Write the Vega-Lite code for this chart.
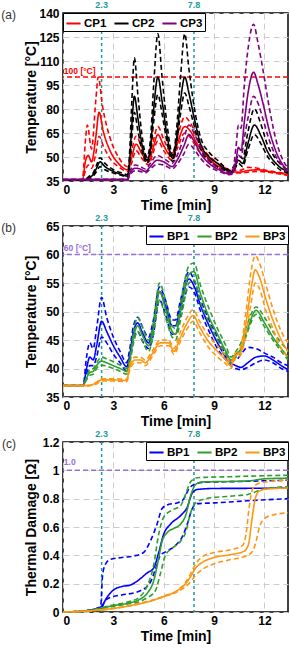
{
"$schema":"https://vega.github.io/schema/vega-lite/v6.json",
"padding":{"left":0,"top":0,"right":3,"bottom":0},
"background":"white",
"config":{
 "font":"Liberation Sans",
 "view":{"stroke":"black","strokeWidth":1.5},
 "axis":{"labelFont":"Liberation Sans","labelFontWeight":"bold","labelFontSize":12,"labelColor":"black","titleFont":"Liberation Sans","titleFontSize":14,"titleFontWeight":"bold","titleColor":"black","grid":true,"gridColor":"#cccccc","gridDash":[6,4],"gridWidth":1,"domain":false,"ticks":false,"labelPadding":3},
 "axisY":{"titleX":-25,"titleBaseline":"bottom","labelPadding":4},
 "axisX":{"titlePadding":3},
 "legend":{"symbolType":"stroke","symbolStrokeWidth":2,"symbolSize":200,"labelFont":"Liberation Sans","labelFontSize":11.5,"labelFontWeight":"bold","labelColor":"black","strokeColor":"black","fillColor":"white","padding":2,"offset":0,"columnPadding":3,"labelOffset":2}
},
"datasets":{
"a":[
{"s":"CP1","k":"m","t":0,"v":35.5},{"s":"CP1","k":"m","t":1.15,"v":35.5},{"s":"CP1","k":"m","t":1.35,"v":48},{"s":"CP1","k":"m","t":1.5,"v":51},{"s":"CP1","k":"m","t":1.7,"v":47},{"s":"CP1","k":"m","t":1.95,"v":62},{"s":"CP1","k":"m","t":2.15,"v":78},{"s":"CP1","k":"m","t":2.4,"v":66},{"s":"CP1","k":"m","t":2.8,"v":54},{"s":"CP1","k":"m","t":3.3,"v":46},{"s":"CP1","k":"m","t":3.85,"v":42},{"s":"CP1","k":"m","t":4.05,"v":48},{"s":"CP1","k":"m","t":4.35,"v":58},{"s":"CP1","k":"m","t":4.7,"v":52},{"s":"CP1","k":"m","t":5.1,"v":47},{"s":"CP1","k":"m","t":5.35,"v":55},{"s":"CP1","k":"m","t":5.65,"v":64},{"s":"CP1","k":"m","t":6.0,"v":57},{"s":"CP1","k":"m","t":6.5,"v":50},{"s":"CP1","k":"m","t":6.8,"v":58},{"s":"CP1","k":"m","t":7.25,"v":69},{"s":"CP1","k":"m","t":7.6,"v":66},{"s":"CP1","k":"m","t":8.0,"v":58},{"s":"CP1","k":"m","t":8.5,"v":51},{"s":"CP1","k":"m","t":9.0,"v":46},{"s":"CP1","k":"m","t":9.5,"v":43},{"s":"CP1","k":"m","t":10.0,"v":41},{"s":"CP1","k":"m","t":10.5,"v":40.5},{"s":"CP1","k":"m","t":11.0,"v":41.5},{"s":"CP1","k":"m","t":11.6,"v":42},{"s":"CP1","k":"m","t":12.2,"v":41},{"s":"CP1","k":"m","t":12.8,"v":40},{"s":"CP1","k":"m","t":13.4,"v":39},
{"s":"CP1","k":"h","t":0,"v":35.5},{"s":"CP1","k":"h","t":1.15,"v":35.5},{"s":"CP1","k":"h","t":1.35,"v":62},{"s":"CP1","k":"h","t":1.45,"v":70},{"s":"CP1","k":"h","t":1.7,"v":55},{"s":"CP1","k":"h","t":1.95,"v":85},{"s":"CP1","k":"h","t":2.1,"v":100},{"s":"CP1","k":"h","t":2.35,"v":82},{"s":"CP1","k":"h","t":2.8,"v":62},{"s":"CP1","k":"h","t":3.3,"v":50},{"s":"CP1","k":"h","t":3.85,"v":44},{"s":"CP1","k":"h","t":4.05,"v":52},{"s":"CP1","k":"h","t":4.35,"v":63},{"s":"CP1","k":"h","t":4.7,"v":56},{"s":"CP1","k":"h","t":5.1,"v":49},{"s":"CP1","k":"h","t":5.35,"v":59},{"s":"CP1","k":"h","t":5.65,"v":69},{"s":"CP1","k":"h","t":6.0,"v":61},{"s":"CP1","k":"h","t":6.5,"v":52},{"s":"CP1","k":"h","t":6.8,"v":62},{"s":"CP1","k":"h","t":7.25,"v":75},{"s":"CP1","k":"h","t":7.6,"v":71},{"s":"CP1","k":"h","t":8.0,"v":62},{"s":"CP1","k":"h","t":8.5,"v":53},{"s":"CP1","k":"h","t":9.0,"v":48},{"s":"CP1","k":"h","t":9.5,"v":44},{"s":"CP1","k":"h","t":10.0,"v":42},{"s":"CP1","k":"h","t":10.5,"v":41.5},{"s":"CP1","k":"h","t":11.0,"v":43.5},{"s":"CP1","k":"h","t":11.6,"v":43},{"s":"CP1","k":"h","t":12.2,"v":41.5},{"s":"CP1","k":"h","t":12.8,"v":40.5},{"s":"CP1","k":"h","t":13.4,"v":39.5},
{"s":"CP1","k":"l","t":0,"v":35.5},{"s":"CP1","k":"l","t":1.15,"v":35.5},{"s":"CP1","k":"l","t":1.35,"v":42},{"s":"CP1","k":"l","t":1.5,"v":45},{"s":"CP1","k":"l","t":1.7,"v":43},{"s":"CP1","k":"l","t":1.95,"v":52},{"s":"CP1","k":"l","t":2.15,"v":63},{"s":"CP1","k":"l","t":2.4,"v":57},{"s":"CP1","k":"l","t":2.8,"v":49},{"s":"CP1","k":"l","t":3.3,"v":44},{"s":"CP1","k":"l","t":3.85,"v":41},{"s":"CP1","k":"l","t":4.05,"v":45},{"s":"CP1","k":"l","t":4.35,"v":54},{"s":"CP1","k":"l","t":4.7,"v":49},{"s":"CP1","k":"l","t":5.1,"v":45},{"s":"CP1","k":"l","t":5.35,"v":52},{"s":"CP1","k":"l","t":5.65,"v":60},{"s":"CP1","k":"l","t":6.0,"v":54},{"s":"CP1","k":"l","t":6.5,"v":48},{"s":"CP1","k":"l","t":6.8,"v":55},{"s":"CP1","k":"l","t":7.25,"v":65},{"s":"CP1","k":"l","t":7.6,"v":62},{"s":"CP1","k":"l","t":8.0,"v":55},{"s":"CP1","k":"l","t":8.5,"v":49},{"s":"CP1","k":"l","t":9.0,"v":45},{"s":"CP1","k":"l","t":9.5,"v":42},{"s":"CP1","k":"l","t":10.0,"v":40.5},{"s":"CP1","k":"l","t":10.5,"v":40},{"s":"CP1","k":"l","t":11.0,"v":40.5},{"s":"CP1","k":"l","t":11.6,"v":41},{"s":"CP1","k":"l","t":12.2,"v":40.5},{"s":"CP1","k":"l","t":12.8,"v":39.5},{"s":"CP1","k":"l","t":13.4,"v":38.5},
{"s":"CP2","k":"m","t":0,"v":35.5},{"s":"CP2","k":"m","t":1.3,"v":35.5},{"s":"CP2","k":"m","t":1.5,"v":37},{"s":"CP2","k":"m","t":1.8,"v":39},{"s":"CP2","k":"m","t":2.0,"v":43},{"s":"CP2","k":"m","t":2.2,"v":47},{"s":"CP2","k":"m","t":2.5,"v":44},{"s":"CP2","k":"m","t":3.0,"v":41},{"s":"CP2","k":"m","t":3.5,"v":39},{"s":"CP2","k":"m","t":3.85,"v":38},{"s":"CP2","k":"m","t":3.95,"v":45},{"s":"CP2","k":"m","t":4.1,"v":70},{"s":"CP2","k":"m","t":4.25,"v":88},{"s":"CP2","k":"m","t":4.45,"v":75},{"s":"CP2","k":"m","t":4.7,"v":58},{"s":"CP2","k":"m","t":5.0,"v":48},{"s":"CP2","k":"m","t":5.2,"v":55},{"s":"CP2","k":"m","t":5.4,"v":80},{"s":"CP2","k":"m","t":5.65,"v":100},{"s":"CP2","k":"m","t":5.9,"v":85},{"s":"CP2","k":"m","t":6.2,"v":63},{"s":"CP2","k":"m","t":6.55,"v":49},{"s":"CP2","k":"m","t":6.75,"v":60},{"s":"CP2","k":"m","t":7.0,"v":85},{"s":"CP2","k":"m","t":7.25,"v":100},{"s":"CP2","k":"m","t":7.5,"v":90},{"s":"CP2","k":"m","t":7.8,"v":75},{"s":"CP2","k":"m","t":8.2,"v":58},{"s":"CP2","k":"m","t":8.7,"v":50},{"s":"CP2","k":"m","t":9.2,"v":46},{"s":"CP2","k":"m","t":9.6,"v":43},{"s":"CP2","k":"m","t":10.0,"v":40.5},{"s":"CP2","k":"m","t":10.2,"v":43},{"s":"CP2","k":"m","t":10.45,"v":48},{"s":"CP2","k":"m","t":10.7,"v":46},{"s":"CP2","k":"m","t":11.0,"v":58},{"s":"CP2","k":"m","t":11.4,"v":70},{"s":"CP2","k":"m","t":11.8,"v":63},{"s":"CP2","k":"m","t":12.2,"v":53},{"s":"CP2","k":"m","t":12.6,"v":47},{"s":"CP2","k":"m","t":13.0,"v":43},{"s":"CP2","k":"m","t":13.4,"v":41},
{"s":"CP2","k":"h","t":0,"v":35.5},{"s":"CP2","k":"h","t":1.3,"v":35.5},{"s":"CP2","k":"h","t":1.5,"v":37.5},{"s":"CP2","k":"h","t":1.8,"v":40},{"s":"CP2","k":"h","t":2.0,"v":45},{"s":"CP2","k":"h","t":2.2,"v":49.5},{"s":"CP2","k":"h","t":2.5,"v":46},{"s":"CP2","k":"h","t":3.0,"v":42},{"s":"CP2","k":"h","t":3.5,"v":40},{"s":"CP2","k":"h","t":3.85,"v":39},{"s":"CP2","k":"h","t":3.95,"v":50},{"s":"CP2","k":"h","t":4.1,"v":85},{"s":"CP2","k":"h","t":4.25,"v":112},{"s":"CP2","k":"h","t":4.45,"v":90},{"s":"CP2","k":"h","t":4.7,"v":64},{"s":"CP2","k":"h","t":5.0,"v":50},{"s":"CP2","k":"h","t":5.2,"v":60},{"s":"CP2","k":"h","t":5.4,"v":95},{"s":"CP2","k":"h","t":5.65,"v":127},{"s":"CP2","k":"h","t":5.9,"v":100},{"s":"CP2","k":"h","t":6.2,"v":70},{"s":"CP2","k":"h","t":6.55,"v":51},{"s":"CP2","k":"h","t":6.75,"v":66},{"s":"CP2","k":"h","t":7.0,"v":100},{"s":"CP2","k":"h","t":7.25,"v":127},{"s":"CP2","k":"h","t":7.5,"v":105},{"s":"CP2","k":"h","t":7.8,"v":82},{"s":"CP2","k":"h","t":8.2,"v":62},{"s":"CP2","k":"h","t":8.7,"v":53},{"s":"CP2","k":"h","t":9.2,"v":48},{"s":"CP2","k":"h","t":9.6,"v":44},{"s":"CP2","k":"h","t":10.0,"v":41.5},{"s":"CP2","k":"h","t":10.2,"v":45},{"s":"CP2","k":"h","t":10.45,"v":51},{"s":"CP2","k":"h","t":10.7,"v":49},{"s":"CP2","k":"h","t":11.0,"v":65},{"s":"CP2","k":"h","t":11.4,"v":80},{"s":"CP2","k":"h","t":11.8,"v":70},{"s":"CP2","k":"h","t":12.2,"v":57},{"s":"CP2","k":"h","t":12.6,"v":50},{"s":"CP2","k":"h","t":13.0,"v":45},{"s":"CP2","k":"h","t":13.4,"v":42},
{"s":"CP2","k":"l","t":0,"v":35.5},{"s":"CP2","k":"l","t":1.3,"v":35.5},{"s":"CP2","k":"l","t":1.5,"v":36.5},{"s":"CP2","k":"l","t":1.8,"v":38},{"s":"CP2","k":"l","t":2.0,"v":41},{"s":"CP2","k":"l","t":2.2,"v":44},{"s":"CP2","k":"l","t":2.5,"v":42},{"s":"CP2","k":"l","t":3.0,"v":40},{"s":"CP2","k":"l","t":3.5,"v":38.5},{"s":"CP2","k":"l","t":3.85,"v":37.5},{"s":"CP2","k":"l","t":3.95,"v":43},{"s":"CP2","k":"l","t":4.1,"v":62},{"s":"CP2","k":"l","t":4.25,"v":78},{"s":"CP2","k":"l","t":4.45,"v":67},{"s":"CP2","k":"l","t":4.7,"v":54},{"s":"CP2","k":"l","t":5.0,"v":46},{"s":"CP2","k":"l","t":5.2,"v":52},{"s":"CP2","k":"l","t":5.4,"v":72},{"s":"CP2","k":"l","t":5.65,"v":89},{"s":"CP2","k":"l","t":5.9,"v":77},{"s":"CP2","k":"l","t":6.2,"v":59},{"s":"CP2","k":"l","t":6.55,"v":47},{"s":"CP2","k":"l","t":6.75,"v":57},{"s":"CP2","k":"l","t":7.0,"v":77},{"s":"CP2","k":"l","t":7.25,"v":90},{"s":"CP2","k":"l","t":7.5,"v":82},{"s":"CP2","k":"l","t":7.8,"v":70},{"s":"CP2","k":"l","t":8.2,"v":55},{"s":"CP2","k":"l","t":8.7,"v":48},{"s":"CP2","k":"l","t":9.2,"v":44},{"s":"CP2","k":"l","t":9.6,"v":42},{"s":"CP2","k":"l","t":10.0,"v":40},{"s":"CP2","k":"l","t":10.2,"v":42},{"s":"CP2","k":"l","t":10.45,"v":46},{"s":"CP2","k":"l","t":10.7,"v":44},{"s":"CP2","k":"l","t":11.0,"v":54},{"s":"CP2","k":"l","t":11.4,"v":64},{"s":"CP2","k":"l","t":11.8,"v":58},{"s":"CP2","k":"l","t":12.2,"v":50},{"s":"CP2","k":"l","t":12.6,"v":45},{"s":"CP2","k":"l","t":13.0,"v":41.5},{"s":"CP2","k":"l","t":13.4,"v":40},
{"s":"CP3","k":"m","t":0,"v":36},{"s":"CP3","k":"m","t":3.85,"v":36},{"s":"CP3","k":"m","t":3.95,"v":39},{"s":"CP3","k":"m","t":4.3,"v":43},{"s":"CP3","k":"m","t":4.6,"v":42.5},{"s":"CP3","k":"m","t":4.9,"v":41},{"s":"CP3","k":"m","t":5.2,"v":44},{"s":"CP3","k":"m","t":5.6,"v":48},{"s":"CP3","k":"m","t":6.0,"v":47},{"s":"CP3","k":"m","t":6.5,"v":44},{"s":"CP3","k":"m","t":6.8,"v":48},{"s":"CP3","k":"m","t":7.2,"v":57},{"s":"CP3","k":"m","t":7.5,"v":64},{"s":"CP3","k":"m","t":7.8,"v":60},{"s":"CP3","k":"m","t":8.2,"v":52},{"s":"CP3","k":"m","t":8.7,"v":46},{"s":"CP3","k":"m","t":9.3,"v":42},{"s":"CP3","k":"m","t":9.9,"v":39.5},{"s":"CP3","k":"m","t":10.1,"v":40},{"s":"CP3","k":"m","t":10.3,"v":48},{"s":"CP3","k":"m","t":10.45,"v":56},{"s":"CP3","k":"m","t":10.6,"v":54},{"s":"CP3","k":"m","t":10.8,"v":72},{"s":"CP3","k":"m","t":11.05,"v":92},{"s":"CP3","k":"m","t":11.35,"v":103},{"s":"CP3","k":"m","t":11.6,"v":96},{"s":"CP3","k":"m","t":11.9,"v":84},{"s":"CP3","k":"m","t":12.3,"v":66},{"s":"CP3","k":"m","t":12.7,"v":53},{"s":"CP3","k":"m","t":13.1,"v":45},{"s":"CP3","k":"m","t":13.4,"v":41},
{"s":"CP3","k":"h","t":0,"v":36},{"s":"CP3","k":"h","t":3.85,"v":36},{"s":"CP3","k":"h","t":3.95,"v":40},{"s":"CP3","k":"h","t":4.3,"v":45},{"s":"CP3","k":"h","t":4.6,"v":44},{"s":"CP3","k":"h","t":4.9,"v":42.5},{"s":"CP3","k":"h","t":5.2,"v":46},{"s":"CP3","k":"h","t":5.6,"v":51},{"s":"CP3","k":"h","t":6.0,"v":49},{"s":"CP3","k":"h","t":6.5,"v":46},{"s":"CP3","k":"h","t":6.8,"v":51},{"s":"CP3","k":"h","t":7.2,"v":62},{"s":"CP3","k":"h","t":7.5,"v":70},{"s":"CP3","k":"h","t":7.8,"v":65},{"s":"CP3","k":"h","t":8.2,"v":56},{"s":"CP3","k":"h","t":8.7,"v":48},{"s":"CP3","k":"h","t":9.3,"v":43},{"s":"CP3","k":"h","t":9.9,"v":40.5},{"s":"CP3","k":"h","t":10.1,"v":41.5},{"s":"CP3","k":"h","t":10.3,"v":56},{"s":"CP3","k":"h","t":10.45,"v":70},{"s":"CP3","k":"h","t":10.6,"v":68},{"s":"CP3","k":"h","t":10.8,"v":95},{"s":"CP3","k":"h","t":11.05,"v":120},{"s":"CP3","k":"h","t":11.35,"v":133},{"s":"CP3","k":"h","t":11.6,"v":122},{"s":"CP3","k":"h","t":11.9,"v":105},{"s":"CP3","k":"h","t":12.3,"v":80},{"s":"CP3","k":"h","t":12.7,"v":60},{"s":"CP3","k":"h","t":13.1,"v":48},{"s":"CP3","k":"h","t":13.4,"v":43},
{"s":"CP3","k":"l","t":0,"v":35.5},{"s":"CP3","k":"l","t":3.85,"v":35.5},{"s":"CP3","k":"l","t":3.95,"v":38},{"s":"CP3","k":"l","t":4.3,"v":41.5},{"s":"CP3","k":"l","t":4.6,"v":41},{"s":"CP3","k":"l","t":4.9,"v":40},{"s":"CP3","k":"l","t":5.2,"v":42.5},{"s":"CP3","k":"l","t":5.6,"v":45.5},{"s":"CP3","k":"l","t":6.0,"v":45},{"s":"CP3","k":"l","t":6.5,"v":42.5},{"s":"CP3","k":"l","t":6.8,"v":45.5},{"s":"CP3","k":"l","t":7.2,"v":52},{"s":"CP3","k":"l","t":7.5,"v":58},{"s":"CP3","k":"l","t":7.8,"v":55},{"s":"CP3","k":"l","t":8.2,"v":49},{"s":"CP3","k":"l","t":8.7,"v":44},{"s":"CP3","k":"l","t":9.3,"v":41},{"s":"CP3","k":"l","t":9.9,"v":39},{"s":"CP3","k":"l","t":10.1,"v":39.5},{"s":"CP3","k":"l","t":10.3,"v":45},{"s":"CP3","k":"l","t":10.45,"v":51},{"s":"CP3","k":"l","t":10.6,"v":50},{"s":"CP3","k":"l","t":10.8,"v":62},{"s":"CP3","k":"l","t":11.05,"v":76},{"s":"CP3","k":"l","t":11.35,"v":88},{"s":"CP3","k":"l","t":11.6,"v":84},{"s":"CP3","k":"l","t":11.9,"v":74},{"s":"CP3","k":"l","t":12.3,"v":60},{"s":"CP3","k":"l","t":12.7,"v":50},{"s":"CP3","k":"l","t":13.1,"v":44},{"s":"CP3","k":"l","t":13.4,"v":40}
],
"b":[
{"s":"BP1","k":"m","t":0,"v":37},{"s":"BP1","k":"m","t":1.2,"v":37},{"s":"BP1","k":"m","t":1.4,"v":40},{"s":"BP1","k":"m","t":1.6,"v":42},{"s":"BP1","k":"m","t":1.8,"v":41.5},{"s":"BP1","k":"m","t":2.0,"v":44},{"s":"BP1","k":"m","t":2.3,"v":48.3},{"s":"BP1","k":"m","t":2.6,"v":46.5},{"s":"BP1","k":"m","t":3.0,"v":44},{"s":"BP1","k":"m","t":3.4,"v":42},{"s":"BP1","k":"m","t":3.8,"v":40.3},{"s":"BP1","k":"m","t":3.95,"v":42},{"s":"BP1","k":"m","t":4.2,"v":46.5},{"s":"BP1","k":"m","t":4.45,"v":48},{"s":"BP1","k":"m","t":4.7,"v":46.5},{"s":"BP1","k":"m","t":5.1,"v":44.5},{"s":"BP1","k":"m","t":5.35,"v":47},{"s":"BP1","k":"m","t":5.75,"v":53.5},{"s":"BP1","k":"m","t":6.1,"v":51},{"s":"BP1","k":"m","t":6.5,"v":47.5},{"s":"BP1","k":"m","t":6.7,"v":47.5},{"s":"BP1","k":"m","t":7.0,"v":51},{"s":"BP1","k":"m","t":7.5,"v":55.7},{"s":"BP1","k":"m","t":7.8,"v":54.5},{"s":"BP1","k":"m","t":8.2,"v":51},{"s":"BP1","k":"m","t":8.7,"v":47.5},{"s":"BP1","k":"m","t":9.2,"v":44.5},{"s":"BP1","k":"m","t":9.7,"v":42},{"s":"BP1","k":"m","t":10.0,"v":41},{"s":"BP1","k":"m","t":10.3,"v":40.5},{"s":"BP1","k":"m","t":10.6,"v":40.2},{"s":"BP1","k":"m","t":11.0,"v":41},{"s":"BP1","k":"m","t":11.5,"v":42},{"s":"BP1","k":"m","t":12.0,"v":42.2},{"s":"BP1","k":"m","t":12.5,"v":41.5},{"s":"BP1","k":"m","t":13.0,"v":40.5},{"s":"BP1","k":"m","t":13.4,"v":39.8},
{"s":"BP1","k":"h","t":0,"v":37},{"s":"BP1","k":"h","t":1.2,"v":37},{"s":"BP1","k":"h","t":1.4,"v":42},{"s":"BP1","k":"h","t":1.6,"v":44.5},{"s":"BP1","k":"h","t":1.8,"v":43.5},{"s":"BP1","k":"h","t":2.0,"v":47},{"s":"BP1","k":"h","t":2.3,"v":52.5},{"s":"BP1","k":"h","t":2.6,"v":49},{"s":"BP1","k":"h","t":3.0,"v":45.5},{"s":"BP1","k":"h","t":3.4,"v":43},{"s":"BP1","k":"h","t":3.8,"v":41},{"s":"BP1","k":"h","t":3.95,"v":43},{"s":"BP1","k":"h","t":4.2,"v":47.5},{"s":"BP1","k":"h","t":4.45,"v":49},{"s":"BP1","k":"h","t":4.7,"v":47.5},{"s":"BP1","k":"h","t":5.1,"v":45.5},{"s":"BP1","k":"h","t":5.35,"v":48},{"s":"BP1","k":"h","t":5.75,"v":54.3},{"s":"BP1","k":"h","t":6.1,"v":52},{"s":"BP1","k":"h","t":6.5,"v":48.5},{"s":"BP1","k":"h","t":6.7,"v":48.5},{"s":"BP1","k":"h","t":7.0,"v":52},{"s":"BP1","k":"h","t":7.5,"v":57},{"s":"BP1","k":"h","t":7.8,"v":55.5},{"s":"BP1","k":"h","t":8.2,"v":52},{"s":"BP1","k":"h","t":8.7,"v":48.5},{"s":"BP1","k":"h","t":9.2,"v":45.5},{"s":"BP1","k":"h","t":9.7,"v":42.5},{"s":"BP1","k":"h","t":10.0,"v":41.5},{"s":"BP1","k":"h","t":10.3,"v":41.5},{"s":"BP1","k":"h","t":10.6,"v":42.5},{"s":"BP1","k":"h","t":11.0,"v":43.7},{"s":"BP1","k":"h","t":11.5,"v":43.5},{"s":"BP1","k":"h","t":12.0,"v":42.7},{"s":"BP1","k":"h","t":12.5,"v":42},{"s":"BP1","k":"h","t":13.0,"v":41},{"s":"BP1","k":"h","t":13.4,"v":40.5},
{"s":"BP1","k":"l","t":0,"v":37},{"s":"BP1","k":"l","t":1.2,"v":37},{"s":"BP1","k":"l","t":1.4,"v":39},{"s":"BP1","k":"l","t":1.6,"v":40.5},{"s":"BP1","k":"l","t":1.8,"v":40.5},{"s":"BP1","k":"l","t":2.0,"v":42},{"s":"BP1","k":"l","t":2.3,"v":45.5},{"s":"BP1","k":"l","t":2.6,"v":44.5},{"s":"BP1","k":"l","t":3.0,"v":42.5},{"s":"BP1","k":"l","t":3.4,"v":41},{"s":"BP1","k":"l","t":3.8,"v":39.5},{"s":"BP1","k":"l","t":3.95,"v":41},{"s":"BP1","k":"l","t":4.2,"v":45},{"s":"BP1","k":"l","t":4.45,"v":46.5},{"s":"BP1","k":"l","t":4.7,"v":45},{"s":"BP1","k":"l","t":5.1,"v":43.5},{"s":"BP1","k":"l","t":5.35,"v":45.5},{"s":"BP1","k":"l","t":5.75,"v":52},{"s":"BP1","k":"l","t":6.1,"v":49.5},{"s":"BP1","k":"l","t":6.5,"v":46},{"s":"BP1","k":"l","t":6.7,"v":46},{"s":"BP1","k":"l","t":7.0,"v":49.5},{"s":"BP1","k":"l","t":7.5,"v":54.3},{"s":"BP1","k":"l","t":7.8,"v":53.5},{"s":"BP1","k":"l","t":8.2,"v":50},{"s":"BP1","k":"l","t":8.7,"v":46.5},{"s":"BP1","k":"l","t":9.2,"v":43.5},{"s":"BP1","k":"l","t":9.7,"v":41.5},{"s":"BP1","k":"l","t":10.0,"v":40.5},{"s":"BP1","k":"l","t":10.3,"v":40},{"s":"BP1","k":"l","t":10.6,"v":39.8},{"s":"BP1","k":"l","t":11.0,"v":40.2},{"s":"BP1","k":"l","t":11.5,"v":41},{"s":"BP1","k":"l","t":12.0,"v":41.5},{"s":"BP1","k":"l","t":12.5,"v":41},{"s":"BP1","k":"l","t":13.0,"v":40},{"s":"BP1","k":"l","t":13.4,"v":39.5},
{"s":"BP2","k":"m","t":0,"v":37},{"s":"BP2","k":"m","t":1.2,"v":37},{"s":"BP2","k":"m","t":1.4,"v":38.3},{"s":"BP2","k":"m","t":1.6,"v":39.3},{"s":"BP2","k":"m","t":1.8,"v":39.5},{"s":"BP2","k":"m","t":2.0,"v":40.5},{"s":"BP2","k":"m","t":2.3,"v":41.3},{"s":"BP2","k":"m","t":2.6,"v":41},{"s":"BP2","k":"m","t":3.0,"v":40.5},{"s":"BP2","k":"m","t":3.4,"v":40},{"s":"BP2","k":"m","t":3.8,"v":39.5},{"s":"BP2","k":"m","t":3.95,"v":41},{"s":"BP2","k":"m","t":4.2,"v":45.5},{"s":"BP2","k":"m","t":4.45,"v":47.5},{"s":"BP2","k":"m","t":4.7,"v":46},{"s":"BP2","k":"m","t":5.1,"v":44},{"s":"BP2","k":"m","t":5.35,"v":46.5},{"s":"BP2","k":"m","t":5.75,"v":53.5},{"s":"BP2","k":"m","t":6.1,"v":50.5},{"s":"BP2","k":"m","t":6.5,"v":46.5},{"s":"BP2","k":"m","t":6.7,"v":46},{"s":"BP2","k":"m","t":7.0,"v":50},{"s":"BP2","k":"m","t":7.5,"v":56.5},{"s":"BP2","k":"m","t":7.8,"v":57},{"s":"BP2","k":"m","t":8.2,"v":53},{"s":"BP2","k":"m","t":8.7,"v":49},{"s":"BP2","k":"m","t":9.2,"v":46},{"s":"BP2","k":"m","t":9.7,"v":43},{"s":"BP2","k":"m","t":10.0,"v":41.5},{"s":"BP2","k":"m","t":10.3,"v":42.5},{"s":"BP2","k":"m","t":10.6,"v":43.5},{"s":"BP2","k":"m","t":11.0,"v":47},{"s":"BP2","k":"m","t":11.5,"v":50.2},{"s":"BP2","k":"m","t":12.0,"v":48},{"s":"BP2","k":"m","t":12.5,"v":45.5},{"s":"BP2","k":"m","t":13.0,"v":43.5},{"s":"BP2","k":"m","t":13.4,"v":42},
{"s":"BP2","k":"h","t":0,"v":37},{"s":"BP2","k":"h","t":1.2,"v":37},{"s":"BP2","k":"h","t":1.4,"v":38.6},{"s":"BP2","k":"h","t":1.6,"v":39.8},{"s":"BP2","k":"h","t":1.8,"v":40},{"s":"BP2","k":"h","t":2.0,"v":41},{"s":"BP2","k":"h","t":2.3,"v":42},{"s":"BP2","k":"h","t":2.6,"v":41.7},{"s":"BP2","k":"h","t":3.0,"v":41.2},{"s":"BP2","k":"h","t":3.4,"v":40.6},{"s":"BP2","k":"h","t":3.8,"v":40},{"s":"BP2","k":"h","t":3.95,"v":41.5},{"s":"BP2","k":"h","t":4.2,"v":46.5},{"s":"BP2","k":"h","t":4.45,"v":49},{"s":"BP2","k":"h","t":4.7,"v":47.5},{"s":"BP2","k":"h","t":5.1,"v":45},{"s":"BP2","k":"h","t":5.35,"v":47.5},{"s":"BP2","k":"h","t":5.75,"v":55},{"s":"BP2","k":"h","t":6.1,"v":52},{"s":"BP2","k":"h","t":6.5,"v":47.5},{"s":"BP2","k":"h","t":6.7,"v":47},{"s":"BP2","k":"h","t":7.0,"v":51.5},{"s":"BP2","k":"h","t":7.5,"v":58},{"s":"BP2","k":"h","t":7.8,"v":58.5},{"s":"BP2","k":"h","t":8.2,"v":54.5},{"s":"BP2","k":"h","t":8.7,"v":50.5},{"s":"BP2","k":"h","t":9.2,"v":47},{"s":"BP2","k":"h","t":9.7,"v":44},{"s":"BP2","k":"h","t":10.0,"v":42},{"s":"BP2","k":"h","t":10.3,"v":43},{"s":"BP2","k":"h","t":10.6,"v":44.5},{"s":"BP2","k":"h","t":11.0,"v":48},{"s":"BP2","k":"h","t":11.5,"v":50.8},{"s":"BP2","k":"h","t":12.0,"v":49},{"s":"BP2","k":"h","t":12.5,"v":46.5},{"s":"BP2","k":"h","t":13.0,"v":44.5},{"s":"BP2","k":"h","t":13.4,"v":43},
{"s":"BP2","k":"l","t":0,"v":37},{"s":"BP2","k":"l","t":1.2,"v":37},{"s":"BP2","k":"l","t":1.4,"v":38},{"s":"BP2","k":"l","t":1.6,"v":38.8},{"s":"BP2","k":"l","t":1.8,"v":39},{"s":"BP2","k":"l","t":2.0,"v":40},{"s":"BP2","k":"l","t":2.3,"v":40.6},{"s":"BP2","k":"l","t":2.6,"v":40.4},{"s":"BP2","k":"l","t":3.0,"v":40},{"s":"BP2","k":"l","t":3.4,"v":39.5},{"s":"BP2","k":"l","t":3.8,"v":39},{"s":"BP2","k":"l","t":3.95,"v":40.5},{"s":"BP2","k":"l","t":4.2,"v":44.5},{"s":"BP2","k":"l","t":4.45,"v":46.5},{"s":"BP2","k":"l","t":4.7,"v":45},{"s":"BP2","k":"l","t":5.1,"v":43},{"s":"BP2","k":"l","t":5.35,"v":45.5},{"s":"BP2","k":"l","t":5.75,"v":52},{"s":"BP2","k":"l","t":6.1,"v":49},{"s":"BP2","k":"l","t":6.5,"v":45.5},{"s":"BP2","k":"l","t":6.7,"v":45},{"s":"BP2","k":"l","t":7.0,"v":48.5},{"s":"BP2","k":"l","t":7.5,"v":55},{"s":"BP2","k":"l","t":7.8,"v":55.5},{"s":"BP2","k":"l","t":8.2,"v":51.5},{"s":"BP2","k":"l","t":8.7,"v":48},{"s":"BP2","k":"l","t":9.2,"v":45},{"s":"BP2","k":"l","t":9.7,"v":42.5},{"s":"BP2","k":"l","t":10.0,"v":41},{"s":"BP2","k":"l","t":10.3,"v":42},{"s":"BP2","k":"l","t":10.6,"v":43},{"s":"BP2","k":"l","t":11.0,"v":46.5},{"s":"BP2","k":"l","t":11.5,"v":49.5},{"s":"BP2","k":"l","t":12.0,"v":47.3},{"s":"BP2","k":"l","t":12.5,"v":45},{"s":"BP2","k":"l","t":13.0,"v":43},{"s":"BP2","k":"l","t":13.4,"v":41.5},
{"s":"BP3","k":"m","t":0,"v":37},{"s":"BP3","k":"m","t":1.5,"v":37},{"s":"BP3","k":"m","t":2.0,"v":37.5},{"s":"BP3","k":"m","t":2.3,"v":38},{"s":"BP3","k":"m","t":3.0,"v":38},{"s":"BP3","k":"m","t":3.8,"v":37.9},{"s":"BP3","k":"m","t":3.95,"v":40},{"s":"BP3","k":"m","t":4.3,"v":41.5},{"s":"BP3","k":"m","t":4.6,"v":41.5},{"s":"BP3","k":"m","t":4.9,"v":41},{"s":"BP3","k":"m","t":5.3,"v":42.5},{"s":"BP3","k":"m","t":5.8,"v":44.5},{"s":"BP3","k":"m","t":6.3,"v":44.5},{"s":"BP3","k":"m","t":6.6,"v":43},{"s":"BP3","k":"m","t":7.0,"v":45.5},{"s":"BP3","k":"m","t":7.4,"v":48},{"s":"BP3","k":"m","t":7.75,"v":49.3},{"s":"BP3","k":"m","t":8.1,"v":47.5},{"s":"BP3","k":"m","t":8.6,"v":45},{"s":"BP3","k":"m","t":9.2,"v":43},{"s":"BP3","k":"m","t":9.7,"v":41.5},{"s":"BP3","k":"m","t":10.0,"v":40.5},{"s":"BP3","k":"m","t":10.2,"v":42},{"s":"BP3","k":"m","t":10.4,"v":42.5},{"s":"BP3","k":"m","t":10.6,"v":43},{"s":"BP3","k":"m","t":10.9,"v":48},{"s":"BP3","k":"m","t":11.2,"v":54},{"s":"BP3","k":"m","t":11.45,"v":57.3},{"s":"BP3","k":"m","t":11.7,"v":56},{"s":"BP3","k":"m","t":12.1,"v":52},{"s":"BP3","k":"m","t":12.5,"v":48.5},{"s":"BP3","k":"m","t":13.0,"v":45},{"s":"BP3","k":"m","t":13.4,"v":43},
{"s":"BP3","k":"h","t":0,"v":37},{"s":"BP3","k":"h","t":1.5,"v":37},{"s":"BP3","k":"h","t":2.0,"v":37.6},{"s":"BP3","k":"h","t":2.3,"v":38.2},{"s":"BP3","k":"h","t":3.0,"v":38.2},{"s":"BP3","k":"h","t":3.8,"v":38.1},{"s":"BP3","k":"h","t":3.95,"v":40.5},{"s":"BP3","k":"h","t":4.3,"v":42},{"s":"BP3","k":"h","t":4.6,"v":42},{"s":"BP3","k":"h","t":4.9,"v":41.5},{"s":"BP3","k":"h","t":5.3,"v":43},{"s":"BP3","k":"h","t":5.8,"v":45},{"s":"BP3","k":"h","t":6.3,"v":45},{"s":"BP3","k":"h","t":6.6,"v":43.5},{"s":"BP3","k":"h","t":7.0,"v":46.5},{"s":"BP3","k":"h","t":7.4,"v":49},{"s":"BP3","k":"h","t":7.75,"v":50.3},{"s":"BP3","k":"h","t":8.1,"v":48.5},{"s":"BP3","k":"h","t":8.6,"v":46},{"s":"BP3","k":"h","t":9.2,"v":44},{"s":"BP3","k":"h","t":9.7,"v":42.2},{"s":"BP3","k":"h","t":10.0,"v":41},{"s":"BP3","k":"h","t":10.2,"v":42.5},{"s":"BP3","k":"h","t":10.4,"v":43},{"s":"BP3","k":"h","t":10.6,"v":44},{"s":"BP3","k":"h","t":10.9,"v":50},{"s":"BP3","k":"h","t":11.2,"v":57},{"s":"BP3","k":"h","t":11.45,"v":59.8},{"s":"BP3","k":"h","t":11.7,"v":58.5},{"s":"BP3","k":"h","t":12.1,"v":54.5},{"s":"BP3","k":"h","t":12.5,"v":50.5},{"s":"BP3","k":"h","t":13.0,"v":46.5},{"s":"BP3","k":"h","t":13.4,"v":44.5},
{"s":"BP3","k":"l","t":0,"v":37},{"s":"BP3","k":"l","t":1.5,"v":37},{"s":"BP3","k":"l","t":2.0,"v":37.3},{"s":"BP3","k":"l","t":2.3,"v":37.8},{"s":"BP3","k":"l","t":3.0,"v":37.8},{"s":"BP3","k":"l","t":3.8,"v":37.7},{"s":"BP3","k":"l","t":3.95,"v":39.5},{"s":"BP3","k":"l","t":4.3,"v":41},{"s":"BP3","k":"l","t":4.6,"v":41},{"s":"BP3","k":"l","t":4.9,"v":40.5},{"s":"BP3","k":"l","t":5.3,"v":42},{"s":"BP3","k":"l","t":5.8,"v":44},{"s":"BP3","k":"l","t":6.3,"v":44},{"s":"BP3","k":"l","t":6.6,"v":42.5},{"s":"BP3","k":"l","t":7.0,"v":44.8},{"s":"BP3","k":"l","t":7.4,"v":47},{"s":"BP3","k":"l","t":7.75,"v":48.3},{"s":"BP3","k":"l","t":8.1,"v":46.5},{"s":"BP3","k":"l","t":8.6,"v":44},{"s":"BP3","k":"l","t":9.2,"v":42},{"s":"BP3","k":"l","t":9.7,"v":40.8},{"s":"BP3","k":"l","t":10.0,"v":40},{"s":"BP3","k":"l","t":10.2,"v":41.5},{"s":"BP3","k":"l","t":10.4,"v":42},{"s":"BP3","k":"l","t":10.6,"v":42.5},{"s":"BP3","k":"l","t":10.9,"v":46},{"s":"BP3","k":"l","t":11.2,"v":51.5},{"s":"BP3","k":"l","t":11.45,"v":55},{"s":"BP3","k":"l","t":11.7,"v":54},{"s":"BP3","k":"l","t":12.1,"v":50},{"s":"BP3","k":"l","t":12.5,"v":47},{"s":"BP3","k":"l","t":13.0,"v":43.5},{"s":"BP3","k":"l","t":13.4,"v":42}
],
"c":[
{"s":"BP1","k":"m","t":0,"v":0},{"s":"BP1","k":"m","t":1,"v":0.005},{"s":"BP1","k":"m","t":2,"v":0.025},{"s":"BP1","k":"m","t":2.3,"v":0.04},{"s":"BP1","k":"m","t":2.6,"v":0.1},{"s":"BP1","k":"m","t":3,"v":0.155},{"s":"BP1","k":"m","t":3.5,"v":0.18},{"s":"BP1","k":"m","t":4,"v":0.19},{"s":"BP1","k":"m","t":4.5,"v":0.225},{"s":"BP1","k":"m","t":5,"v":0.275},{"s":"BP1","k":"m","t":5.4,"v":0.31},{"s":"BP1","k":"m","t":5.7,"v":0.42},{"s":"BP1","k":"m","t":6,"v":0.55},{"s":"BP1","k":"m","t":6.4,"v":0.62},{"s":"BP1","k":"m","t":7,"v":0.68},{"s":"BP1","k":"m","t":7.4,"v":0.74},{"s":"BP1","k":"m","t":7.7,"v":0.84},{"s":"BP1","k":"m","t":8,"v":0.865},{"s":"BP1","k":"m","t":9,"v":0.872},{"s":"BP1","k":"m","t":11,"v":0.873},{"s":"BP1","k":"m","t":13.4,"v":0.875},
{"s":"BP1","k":"h","t":0,"v":0},{"s":"BP1","k":"h","t":1,"v":0.005},{"s":"BP1","k":"h","t":2,"v":0.025},{"s":"BP1","k":"h","t":2.25,"v":0.05},{"s":"BP1","k":"h","t":2.35,"v":0.25},{"s":"BP1","k":"h","t":2.5,"v":0.33},{"s":"BP1","k":"h","t":2.8,"v":0.37},{"s":"BP1","k":"h","t":3.5,"v":0.385},{"s":"BP1","k":"h","t":4.2,"v":0.395},{"s":"BP1","k":"h","t":4.8,"v":0.42},{"s":"BP1","k":"h","t":5.2,"v":0.5},{"s":"BP1","k":"h","t":5.6,"v":0.62},{"s":"BP1","k":"h","t":5.9,"v":0.73},{"s":"BP1","k":"h","t":6.3,"v":0.76},{"s":"BP1","k":"h","t":6.8,"v":0.77},{"s":"BP1","k":"h","t":7.2,"v":0.8},{"s":"BP1","k":"h","t":7.5,"v":0.87},{"s":"BP1","k":"h","t":7.8,"v":0.9},{"s":"BP1","k":"h","t":8.3,"v":0.915},{"s":"BP1","k":"h","t":10,"v":0.92},{"s":"BP1","k":"h","t":13.4,"v":0.93},
{"s":"BP1","k":"l","t":0,"v":0},{"s":"BP1","k":"l","t":1,"v":0.005},{"s":"BP1","k":"l","t":2,"v":0.02},{"s":"BP1","k":"l","t":2.3,"v":0.03},{"s":"BP1","k":"l","t":2.5,"v":0.08},{"s":"BP1","k":"l","t":3,"v":0.11},{"s":"BP1","k":"l","t":3.5,"v":0.12},{"s":"BP1","k":"l","t":4.6,"v":0.15},{"s":"BP1","k":"l","t":5.2,"v":0.21},{"s":"BP1","k":"l","t":5.5,"v":0.3},{"s":"BP1","k":"l","t":5.8,"v":0.4},{"s":"BP1","k":"l","t":6.2,"v":0.43},{"s":"BP1","k":"l","t":6.7,"v":0.47},{"s":"BP1","k":"l","t":7.1,"v":0.53},{"s":"BP1","k":"l","t":7.4,"v":0.62},{"s":"BP1","k":"l","t":7.7,"v":0.73},{"s":"BP1","k":"l","t":8,"v":0.765},{"s":"BP1","k":"l","t":9,"v":0.77},{"s":"BP1","k":"l","t":11,"v":0.785},{"s":"BP1","k":"l","t":13.4,"v":0.8},
{"s":"BP2","k":"m","t":0,"v":0},{"s":"BP2","k":"m","t":1,"v":0.004},{"s":"BP2","k":"m","t":2,"v":0.02},{"s":"BP2","k":"m","t":3,"v":0.045},{"s":"BP2","k":"m","t":4,"v":0.065},{"s":"BP2","k":"m","t":4.5,"v":0.085},{"s":"BP2","k":"m","t":5,"v":0.13},{"s":"BP2","k":"m","t":5.4,"v":0.22},{"s":"BP2","k":"m","t":5.7,"v":0.38},{"s":"BP2","k":"m","t":5.9,"v":0.5},{"s":"BP2","k":"m","t":6.2,"v":0.56},{"s":"BP2","k":"m","t":6.6,"v":0.59},{"s":"BP2","k":"m","t":7,"v":0.62},{"s":"BP2","k":"m","t":7.3,"v":0.68},{"s":"BP2","k":"m","t":7.6,"v":0.82},{"s":"BP2","k":"m","t":7.9,"v":0.9},{"s":"BP2","k":"m","t":8.3,"v":0.918},{"s":"BP2","k":"m","t":10,"v":0.922},{"s":"BP2","k":"m","t":11,"v":0.925},{"s":"BP2","k":"m","t":12,"v":0.94},{"s":"BP2","k":"m","t":13.4,"v":0.945},
{"s":"BP2","k":"h","t":0,"v":0},{"s":"BP2","k":"h","t":1,"v":0.004},{"s":"BP2","k":"h","t":2,"v":0.022},{"s":"BP2","k":"h","t":3,"v":0.05},{"s":"BP2","k":"h","t":4,"v":0.075},{"s":"BP2","k":"h","t":4.5,"v":0.1},{"s":"BP2","k":"h","t":5,"v":0.18},{"s":"BP2","k":"h","t":5.4,"v":0.33},{"s":"BP2","k":"h","t":5.7,"v":0.55},{"s":"BP2","k":"h","t":6,"v":0.67},{"s":"BP2","k":"h","t":6.5,"v":0.72},{"s":"BP2","k":"h","t":7,"v":0.75},{"s":"BP2","k":"h","t":7.3,"v":0.83},{"s":"BP2","k":"h","t":7.6,"v":0.92},{"s":"BP2","k":"h","t":8,"v":0.948},{"s":"BP2","k":"h","t":10,"v":0.955},{"s":"BP2","k":"h","t":12,"v":0.962},{"s":"BP2","k":"h","t":13.4,"v":0.965},
{"s":"BP2","k":"l","t":0,"v":0},{"s":"BP2","k":"l","t":1,"v":0.003},{"s":"BP2","k":"l","t":2,"v":0.018},{"s":"BP2","k":"l","t":3,"v":0.04},{"s":"BP2","k":"l","t":4,"v":0.06},{"s":"BP2","k":"l","t":4.5,"v":0.07},{"s":"BP2","k":"l","t":5,"v":0.1},{"s":"BP2","k":"l","t":5.5,"v":0.15},{"s":"BP2","k":"l","t":5.8,"v":0.27},{"s":"BP2","k":"l","t":6.1,"v":0.4},{"s":"BP2","k":"l","t":6.5,"v":0.45},{"s":"BP2","k":"l","t":7,"v":0.5},{"s":"BP2","k":"l","t":7.3,"v":0.56},{"s":"BP2","k":"l","t":7.6,"v":0.7},{"s":"BP2","k":"l","t":7.9,"v":0.77},{"s":"BP2","k":"l","t":8.5,"v":0.8},{"s":"BP2","k":"l","t":10,"v":0.818},{"s":"BP2","k":"l","t":11,"v":0.83},{"s":"BP2","k":"l","t":12,"v":0.87},{"s":"BP2","k":"l","t":13.4,"v":0.885},
{"s":"BP3","k":"m","t":0,"v":0},{"s":"BP3","k":"m","t":2,"v":0.012},{"s":"BP3","k":"m","t":3,"v":0.025},{"s":"BP3","k":"m","t":4,"v":0.045},{"s":"BP3","k":"m","t":5,"v":0.07},{"s":"BP3","k":"m","t":6,"v":0.11},{"s":"BP3","k":"m","t":6.8,"v":0.15},{"s":"BP3","k":"m","t":7.3,"v":0.2},{"s":"BP3","k":"m","t":7.6,"v":0.25},{"s":"BP3","k":"m","t":7.9,"v":0.31},{"s":"BP3","k":"m","t":8.3,"v":0.35},{"s":"BP3","k":"m","t":9,"v":0.385},{"s":"BP3","k":"m","t":10,"v":0.405},{"s":"BP3","k":"m","t":10.8,"v":0.43},{"s":"BP3","k":"m","t":11.05,"v":0.48},{"s":"BP3","k":"m","t":11.25,"v":0.65},{"s":"BP3","k":"m","t":11.45,"v":0.8},{"s":"BP3","k":"m","t":11.7,"v":0.855},{"s":"BP3","k":"m","t":12.2,"v":0.868},{"s":"BP3","k":"m","t":13.4,"v":0.875},
{"s":"BP3","k":"h","t":0,"v":0},{"s":"BP3","k":"h","t":2,"v":0.012},{"s":"BP3","k":"h","t":4,"v":0.046},{"s":"BP3","k":"h","t":6,"v":0.112},{"s":"BP3","k":"h","t":7,"v":0.17},{"s":"BP3","k":"h","t":7.3,"v":0.21},{"s":"BP3","k":"h","t":7.6,"v":0.27},{"s":"BP3","k":"h","t":7.9,"v":0.34},{"s":"BP3","k":"h","t":8.3,"v":0.39},{"s":"BP3","k":"h","t":9,"v":0.42},{"s":"BP3","k":"h","t":10,"v":0.44},{"s":"BP3","k":"h","t":10.7,"v":0.47},{"s":"BP3","k":"h","t":10.9,"v":0.55},{"s":"BP3","k":"h","t":11.1,"v":0.75},{"s":"BP3","k":"h","t":11.3,"v":0.87},{"s":"BP3","k":"h","t":11.6,"v":0.905},{"s":"BP3","k":"h","t":12.2,"v":0.92},{"s":"BP3","k":"h","t":13.4,"v":0.93},
{"s":"BP3","k":"l","t":0,"v":0},{"s":"BP3","k":"l","t":2,"v":0.012},{"s":"BP3","k":"l","t":4,"v":0.044},{"s":"BP3","k":"l","t":6,"v":0.108},{"s":"BP3","k":"l","t":7,"v":0.155},{"s":"BP3","k":"l","t":7.5,"v":0.2},{"s":"BP3","k":"l","t":7.9,"v":0.26},{"s":"BP3","k":"l","t":8.3,"v":0.3},{"s":"BP3","k":"l","t":9,"v":0.34},{"s":"BP3","k":"l","t":10,"v":0.37},{"s":"BP3","k":"l","t":11,"v":0.4},{"s":"BP3","k":"l","t":11.3,"v":0.43},{"s":"BP3","k":"l","t":11.5,"v":0.5},{"s":"BP3","k":"l","t":11.7,"v":0.6},{"s":"BP3","k":"l","t":12,"v":0.66},{"s":"BP3","k":"l","t":12.5,"v":0.685},{"s":"BP3","k":"l","t":13.4,"v":0.7}
]
},
"vconcat":[
{"width":225,"height":168,
 "layer":[
  {"data":{"values":[{"t":2.3},{"t":7.8}]},"mark":{"type":"rule","color":"#1f9a9a","strokeDash":[3,3],"strokeWidth":1.5},
   "encoding":{"x":{"field":"t","type":"quantitative","scale":{"domain":[0,13.4],"nice":false},"axis":{"values":[0,3,6,9,12],"title":"Time [min]"}}}},
  {"data":{"values":[{"v":100}]},"mark":{"type":"rule","color":"#ff0000","strokeDash":[5,3],"strokeWidth":1.5},
   "encoding":{"y":{"field":"v","type":"quantitative","scale":{"domain":[35,140],"nice":false,"zero":false},"axis":{"values":[35,50,65,80,95,110,125,140],"title":"Temperature [°C]"}}}},
  {"data":{"name":"a"},"mark":{"type":"line","strokeWidth":1.6,"interpolate":"monotone"},
   "encoding":{
    "x":{"field":"t","type":"quantitative","scale":{"domain":[0,13.4],"nice":false},"axis":{"values":[0,3,6,9,12],"title":"Time [min]"}},
    "y":{"field":"v","type":"quantitative","scale":{"domain":[35,140],"nice":false,"zero":false},"axis":{"values":[35,50,65,80,95,110,125,140],"title":"Temperature [°C]"}},
    "color":{"field":"s","type":"nominal","scale":{"domain":["CP1","CP2","CP3"],"range":["#ff0000","#000000","#800080"]},"legend":{"orient":"top-left","direction":"horizontal","title":null}},
    "strokeDash":{"field":"k","type":"nominal","scale":{"domain":["m","h","l"],"range":[[1,0],[5,3],[5,3]]},"legend":null}
   }},
  {"data":{"values":[{"t":2.3,"v":140,"l":"2.3"},{"t":7.8,"v":140,"l":"7.8"}]},"mark":{"type":"text","fontWeight":"bold","fontSize":9,"color":"#1f9a9a","baseline":"bottom","dy":-3},
   "encoding":{"x":{"field":"t","type":"quantitative","scale":{"domain":[0,13.4],"nice":false},"axis":{"values":[0,3,6,9,12],"title":"Time [min]"}},
    "y":{"field":"v","type":"quantitative","scale":{"domain":[35,140],"nice":false,"zero":false},"axis":{"values":[35,50,65,80,95,110,125,140],"title":"Temperature [°C]"}},
    "text":{"field":"l"}}},
  {"data":{"values":[{"t":0.05,"v":100,"l":"100 [°C]"}]},"mark":{"type":"text","fontWeight":"bold","fontSize":8.5,"color":"#ff0000","align":"left","baseline":"bottom","dy":-1},
   "encoding":{"x":{"field":"t","type":"quantitative","scale":{"domain":[0,13.4],"nice":false},"axis":{"values":[0,3,6,9,12],"title":"Time [min]"}},
    "y":{"field":"v","type":"quantitative","scale":{"domain":[35,140],"nice":false,"zero":false},"axis":{"values":[35,50,65,80,95,110,125,140],"title":"Temperature [°C]"}},
    "text":{"field":"l"}}},
  {"data":{"values":[{"t":0,"v":140,"l":"(a)"}]},"mark":{"type":"text","fontSize":12,"color":"#333333","align":"right","baseline":"middle","dx":-47,"dy":2},
   "encoding":{"x":{"field":"t","type":"quantitative","scale":{"domain":[0,13.4],"nice":false},"axis":{"values":[0,3,6,9,12],"title":"Time [min]"}},
    "y":{"field":"v","type":"quantitative","scale":{"domain":[35,140],"nice":false,"zero":false},"axis":{"values":[35,50,65,80,95,110,125,140],"title":"Temperature [°C]"}},
    "text":{"field":"l"}}}
 ]},
{"width":225,"height":171,
 "layer":[
  {"data":{"values":[{"t":2.3},{"t":7.8}]},"mark":{"type":"rule","color":"#1f9a9a","strokeDash":[3,3],"strokeWidth":1.5},
   "encoding":{"x":{"field":"t","type":"quantitative","scale":{"domain":[0,13.4],"nice":false},"axis":{"values":[0,3,6,9,12],"title":"Time [min]"}}}},
  {"data":{"values":[{"v":60}]},"mark":{"type":"rule","color":"#9370db","strokeDash":[5,3],"strokeWidth":1.5},
   "encoding":{"y":{"field":"v","type":"quantitative","scale":{"domain":[35,65],"nice":false,"zero":false},"axis":{"values":[35,40,45,50,55,60,65],"title":"Temperature [°C]"}}}},
  {"data":{"name":"b"},"mark":{"type":"line","strokeWidth":1.6,"interpolate":"monotone"},
   "encoding":{
    "x":{"field":"t","type":"quantitative","scale":{"domain":[0,13.4],"nice":false},"axis":{"values":[0,3,6,9,12],"title":"Time [min]"}},
    "y":{"field":"v","type":"quantitative","scale":{"domain":[35,65],"nice":false,"zero":false},"axis":{"values":[35,40,45,50,55,60,65],"title":"Temperature [°C]"}},
    "color":{"field":"s","type":"nominal","scale":{"domain":["BP1","BP2","BP3"],"range":["#0000ff","#2e9e2e","#ff9612"]},"legend":{"orient":"top-right","direction":"horizontal","title":null}},
    "strokeDash":{"field":"k","type":"nominal","scale":{"domain":["m","h","l"],"range":[[1,0],[5,3],[5,3]]},"legend":null}
   }},
  {"data":{"values":[{"t":2.3,"v":65,"l":"2.3"},{"t":7.8,"v":65,"l":"7.8"}]},"mark":{"type":"text","fontWeight":"bold","fontSize":9,"color":"#1f9a9a","baseline":"bottom","dy":-3},
   "encoding":{"x":{"field":"t","type":"quantitative","scale":{"domain":[0,13.4],"nice":false},"axis":{"values":[0,3,6,9,12],"title":"Time [min]"}},
    "y":{"field":"v","type":"quantitative","scale":{"domain":[35,65],"nice":false,"zero":false},"axis":{"values":[35,40,45,50,55,60,65],"title":"Temperature [°C]"}},
    "text":{"field":"l"}}},
  {"data":{"values":[{"t":0.05,"v":60,"l":"60 [°C]"}]},"mark":{"type":"text","fontWeight":"bold","fontSize":8.5,"color":"#9370db","align":"left","baseline":"bottom","dy":-2},
   "encoding":{"x":{"field":"t","type":"quantitative","scale":{"domain":[0,13.4],"nice":false},"axis":{"values":[0,3,6,9,12],"title":"Time [min]"}},
    "y":{"field":"v","type":"quantitative","scale":{"domain":[35,65],"nice":false,"zero":false},"axis":{"values":[35,40,45,50,55,60,65],"title":"Temperature [°C]"}},
    "text":{"field":"l"}}},
  {"data":{"values":[{"t":0,"v":65,"l":"(b)"}]},"mark":{"type":"text","fontSize":12,"color":"#333333","align":"right","baseline":"middle","dx":-47,"dy":2},
   "encoding":{"x":{"field":"t","type":"quantitative","scale":{"domain":[0,13.4],"nice":false},"axis":{"values":[0,3,6,9,12],"title":"Time [min]"}},
    "y":{"field":"v","type":"quantitative","scale":{"domain":[35,65],"nice":false,"zero":false},"axis":{"values":[35,40,45,50,55,60,65],"title":"Temperature [°C]"}},
    "text":{"field":"l"}}}
 ]},
{"width":225,"height":170,
 "layer":[
  {"data":{"values":[{"t":2.3},{"t":7.8}]},"mark":{"type":"rule","color":"#1f9a9a","strokeDash":[3,3],"strokeWidth":1.5},
   "encoding":{"x":{"field":"t","type":"quantitative","scale":{"domain":[0,13.4],"nice":false},"axis":{"values":[0,3,6,9,12],"title":"Time [min]"}}}},
  {"data":{"values":[{"v":1}]},"mark":{"type":"rule","color":"#9370db","strokeDash":[5,3],"strokeWidth":1.5},
   "encoding":{"y":{"field":"v","type":"quantitative","scale":{"domain":[0,1.2],"nice":false},"axis":{"values":[0,0.2,0.4,0.6,0.8,1,1.2],"format":"~g","title":"Thermal Damage [Ω]"}}}},
  {"data":{"name":"c"},"mark":{"type":"line","strokeWidth":1.6,"interpolate":"monotone"},
   "encoding":{
    "x":{"field":"t","type":"quantitative","scale":{"domain":[0,13.4],"nice":false},"axis":{"values":[0,3,6,9,12],"title":"Time [min]"}},
    "y":{"field":"v","type":"quantitative","scale":{"domain":[0,1.2],"nice":false},"axis":{"values":[0,0.2,0.4,0.6,0.8,1,1.2],"format":"~g","title":"Thermal Damage [Ω]"}},
    "color":{"field":"s","type":"nominal","scale":{"domain":["BP1","BP2","BP3"],"range":["#0000ff","#2e9e2e","#ff9612"]},"legend":{"orient":"top-right","direction":"horizontal","title":null}},
    "strokeDash":{"field":"k","type":"nominal","scale":{"domain":["m","h","l"],"range":[[1,0],[5,3],[5,3]]},"legend":null}
   }},
  {"data":{"values":[{"t":2.3,"v":1.2,"l":"2.3"},{"t":7.8,"v":1.2,"l":"7.8"}]},"mark":{"type":"text","fontWeight":"bold","fontSize":9,"color":"#1f9a9a","baseline":"bottom","dy":-3},
   "encoding":{"x":{"field":"t","type":"quantitative","scale":{"domain":[0,13.4],"nice":false},"axis":{"values":[0,3,6,9,12],"title":"Time [min]"}},
    "y":{"field":"v","type":"quantitative","scale":{"domain":[0,1.2],"nice":false},"axis":{"values":[0,0.2,0.4,0.6,0.8,1,1.2],"format":"~g","title":"Thermal Damage [Ω]"}},
    "text":{"field":"l"}}},
  {"data":{"values":[{"t":0.05,"v":1,"l":"1.0"}]},"mark":{"type":"text","fontWeight":"bold","fontSize":8.5,"color":"#9370db","align":"left","baseline":"bottom","dy":-3},
   "encoding":{"x":{"field":"t","type":"quantitative","scale":{"domain":[0,13.4],"nice":false},"axis":{"values":[0,3,6,9,12],"title":"Time [min]"}},
    "y":{"field":"v","type":"quantitative","scale":{"domain":[0,1.2],"nice":false},"axis":{"values":[0,0.2,0.4,0.6,0.8,1,1.2],"format":"~g","title":"Thermal Damage [Ω]"}},
    "text":{"field":"l"}}},
  {"data":{"values":[{"t":0,"v":1.2,"l":"(c)"}]},"mark":{"type":"text","fontSize":12,"color":"#333333","align":"right","baseline":"middle","dx":-47,"dy":2},
   "encoding":{"x":{"field":"t","type":"quantitative","scale":{"domain":[0,13.4],"nice":false},"axis":{"values":[0,3,6,9,12],"title":"Time [min]"}},
    "y":{"field":"v","type":"quantitative","scale":{"domain":[0,1.2],"nice":false},"axis":{"values":[0,0.2,0.4,0.6,0.8,1,1.2],"format":"~g","title":"Thermal Damage [Ω]"}},
    "text":{"field":"l"}}}
 ]}
],
"spacing":0,
"resolve":{"scale":{"color":"independent","strokeDash":"independent","x":"independent","y":"independent"},"legend":{"color":"independent","strokeDash":"independent"}}
}
